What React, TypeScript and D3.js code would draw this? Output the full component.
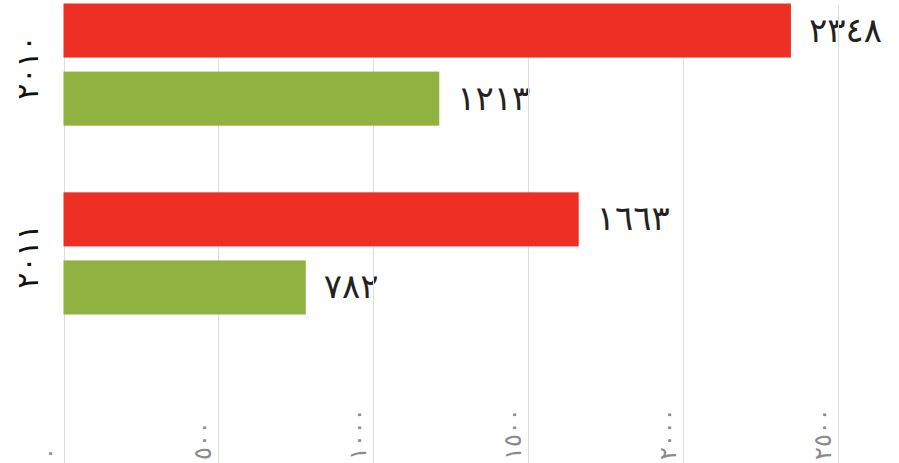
import React from "react";
import * as d3 from "d3";

const years = ["2010", "2011"];
const seriesNames = ["a", "b"];
const seriesA = [2348, 1663];
const seriesB = [1213, 782];
const tickValues = [0, 500, 1000, 1500, 2000, 2500];
const colors = ["#EE3024", "#8FB240"];

const W = 899;
const H = 463;

const toArabic = (s: string | number) =>
  String(s).replace(/[0-9]/g, (d) => "٠١٢٣٤٥٦٧٨٩"[+d]);

export default function App() {
  const x = d3.scaleLinear().domain([0, 2500]).range([63.5, 838]);
  const y0 = d3
    .scaleBand<string>()
    .domain(years)
    .range([3.5, 314.5])
    .paddingInner(0.353)
    .paddingOuter(0);
  const y1 = d3
    .scaleBand<string>()
    .domain(seriesNames)
    .range([0, y0.bandwidth()])
    .paddingInner(0.206);

  const data = years.map((yr, i) => ({
    year: yr,
    values: [
      { key: seriesNames[0], value: seriesA[i] },
      { key: seriesNames[1], value: seriesB[i] },
    ],
  }));

  const font = "DejaVu Sans, sans-serif";

  return (
    <svg
      width={W}
      height={H}
      style={{ position: "absolute", left: 0, top: 0, background: "#fff" }}
    >
      {/* value labels */}
      {data.map((g) =>
        g.values.map((v) => (
          <text
            key={g.year + v.key + "l"}
            x={x(v.value) + 18}
            y={(y0(g.year) as number) + (y1(v.key) as number) + y1.bandwidth() / 2 + 11}
            fontFamily={font}
            fontSize={34}
            letterSpacing={3}
            fill="#222"
          >
            {toArabic(v.value)}
          </text>
        ))
      )}
      {/* year labels */}
      {years.map((yr) => {
        const cy = (y0(yr) as number) + y0.bandwidth() / 2;
        return (
          <text
            key={yr}
            transform={`translate(38,${cy + 3}) rotate(-90)`}
            textAnchor="middle"
            fontFamily={font}
            fontSize={30}
            letterSpacing={6}
            fill="#111"
          >
            {toArabic(yr)}
          </text>
        );
      })}
      {/* grid */}
      {tickValues.map((t) => (
        <line
          key={"g" + t}
          x1={Math.round(x(t)) + 0.5}
          x2={Math.round(x(t)) + 0.5}
          y1={5}
          y2={H}
          stroke="#ddd"
          strokeWidth={1}
        />
      ))}
      {/* tick labels */}
      {tickValues.map((t) => (
        <text
          key={"t" + t}
          transform={`translate(${x(t) - 7},460) rotate(-90)`}
          textAnchor="start"
          fontFamily={font}
          fontSize={24}
          letterSpacing={3}
          fill="#8a8a8a"
        >
          {toArabic(t)}
        </text>
      ))}
      {/* bars */}
      {data.map((g) =>
        g.values.map((v, j) => (
          <rect
            key={g.year + v.key}
            x={x(0)}
            y={(y0(g.year) as number) + (y1(v.key) as number)}
            width={x(v.value) - x(0)}
            height={y1.bandwidth()}
            fill={colors[j]}
          />
        ))
      )}
    </svg>
  );
}
